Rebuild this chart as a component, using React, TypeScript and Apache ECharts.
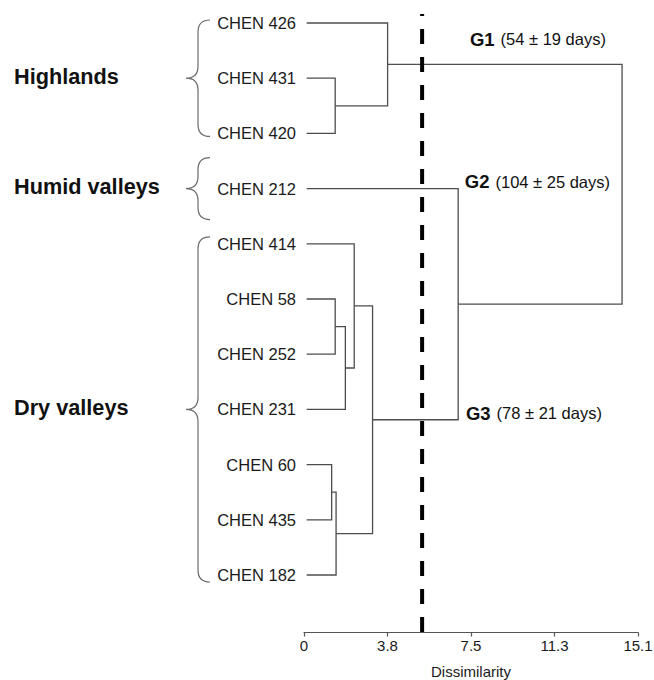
import React, { useEffect, useRef } from "react";
import * as echarts from "echarts";

// ---------- data ----------
const leafNames = [
  "CHEN 426", "CHEN 431", "CHEN 420", "CHEN 212", "CHEN 414", "CHEN 58",
  "CHEN 252", "CHEN 231", "CHEN 60", "CHEN 435", "CHEN 182",
];
// R-style merge matrix: negative = leaf (1-based), positive = earlier merge (1-based)
const mergeLeft = [-2, -1, -6, 3, -5, -9, 6, 5, -4, 2];
const mergeRight = [-3, 1, -7, -8, 4, -10, -11, 7, 8, 9];
const mergeHeight = [1.41, 3.78, 1.41, 1.87, 2.27, 1.25, 1.45, 3.1, 6.97, 14.38];
const leafHang = 0.12;
const cutHeight = 5.34;

const xTickLabels = ["0", "3.8", "7.5", "11.3", "15.1"];
const xMax = 15.1;

const regionNames = ["Highlands", "Humid valleys", "Dry valleys"];
const regionFirstLeaf = [0, 3, 4];
const regionLastLeaf = [2, 3, 10];

const groupNames = ["G1", "G2", "G3"];
const groupDays = ["(54 ± 19 days)", "(104 ± 25 days)", "(78 ± 21 days)"];

// ---------- layout (not data) ----------
const FONT = "Liberation Sans, Arial, Helvetica, sans-serif";
const yMin = -0.163;
const yMax = 11.042;
const bracePad = [3, 31, 7]; // px beyond outer leaves
const groupAnchorX = [7.5, 7.27, 7.32];
const groupAnchorY = [0.29, 2.88, 7.07];

function childPos(c: number, mergeY: number[]): [number, number] {
  if (c < 0) return [leafHang, -c - 1];
  return [mergeHeight[c - 1], mergeY[c - 1]];
}

const mergeY: number[] = [];
for (let i = 0; i < mergeHeight.length; i++) {
  const a = childPos(mergeLeft[i], mergeY);
  const b = childPos(mergeRight[i], mergeY);
  mergeY.push((a[1] + b[1]) / 2);
}

export default function App() {
  const ref = useRef<HTMLDivElement>(null);

  useEffect(() => {
    document.body.style.margin = "0";
    const chart = echarts.init(ref.current!, undefined, { renderer: "svg" });
    const lineColor = "#4d4d4d";

    const option: any = {
      animation: false,
      backgroundColor: "#ffffff",
      grid: { left: 304, right: 16, top: 14, bottom: 47.5, containLabel: false, outerBoundsMode: "none" },
      xAxis: {
        type: "value",
        position: "bottom",
        min: 0,
        max: xMax,
        interval: xMax / 4,
        splitLine: { show: false },
        axisLine: { show: true, onZero: false, lineStyle: { color: "#555", width: 1.2 } },
        axisTick: { show: true, length: 4, lineStyle: { color: "#555", width: 1.2 } },
        axisLabel: {
          margin: 5,
          fontSize: 15,
          fontFamily: FONT,
          color: "#1a1a1a",
          showMinLabel: true,
          showMaxLabel: true,
          formatter: (v: number) => {
            const idx = Math.round(v / (xMax / 4));
            return xTickLabels[idx] ?? "";
          },
        },
        name: "Dissimilarity",
        nameLocation: "middle",
        nameGap: 31,
        nameTextStyle: { fontSize: 15, fontFamily: FONT, color: "#1a1a1a" },
      },
      yAxis: { type: "value", inverse: true, min: yMin, max: yMax, show: false },
      series: [
        {
          type: "custom",
          name: "dendrogram",
          silent: true,
          clip: false,
          data: mergeHeight.map((h, i) => [h, mergeY[i]]),
          encode: { x: 0, y: 1 },
          renderItem: (params: any, api: any) => {
            const i = params.dataIndex;
            const [lx, ly] = childPos(mergeLeft[i], mergeY);
            const [rx, ry] = childPos(mergeRight[i], mergeY);
            const h = mergeHeight[i];
            const pts = [api.coord([lx, ly]), api.coord([h, ly]), api.coord([h, ry]), api.coord([rx, ry])];
            return {
              type: "polyline",
              shape: { points: pts },
              style: { stroke: lineColor, lineWidth: 1.3, fill: "none" },
            };
          },
        },
        {
          type: "custom",
          name: "leaves",
          silent: true,
          clip: false,
          data: leafNames.map((_, i) => [0, i]),
          encode: { x: 0, y: 1 },
          renderItem: (params: any, api: any) => {
            const i = params.dataIndex;
            const p = api.coord([0, i]);
            return {
              type: "text",
              x: p[0] - 8,
              y: p[1],
              style: {
                text: leafNames[i],
                fill: "#1a1a1a",
                fontSize: 16.5,
                fontFamily: FONT,
                align: "right",
                verticalAlign: "middle",
              },
            };
          },
        },
        {
          type: "custom",
          name: "regions",
          silent: true,
          clip: false,
          data: regionNames.map((_, i) => [0, (regionFirstLeaf[i] + regionLastLeaf[i]) / 2]),
          encode: { x: 0, y: 1 },
          renderItem: (params: any, api: any) => {
            const i = params.dataIndex;
            const top = api.coord([0, regionFirstLeaf[i]])[1] - bracePad[i];
            const bot = api.coord([0, regionLastLeaf[i]])[1] + bracePad[i];
            const cy = (top + bot) / 2;
            const xe = 210, xm = 198, xt = 186;
            const r = Math.min(12, (bot - top) / 4);
            const d =
              `M${xe},${top} Q${xm},${top} ${xm},${top + r} L${xm},${cy - r} ` +
              `Q${xm},${cy} ${xt},${cy} Q${xm},${cy} ${xm},${cy + r} ` +
              `L${xm},${bot - r} Q${xm},${bot} ${xe},${bot}`;
            return {
              type: "group",
              children: [
                {
                  type: "path",
                  shape: { pathData: d },
                  style: { stroke: "#6a6a6a", lineWidth: 1.2, fill: "none" },
                },
                {
                  type: "text",
                  x: 14,
                  y: cy - 2,
                  style: {
                    text: regionNames[i],
                    fill: "#111",
                    fontSize: 21.7,
                    fontWeight: "bold",
                    fontFamily: FONT,
                    align: "left",
                    verticalAlign: "middle",
                  },
                },
              ],
            };
          },
        },
        {
          type: "custom",
          name: "groups",
          silent: true,
          clip: false,
          data: groupNames.map((_, i) => [groupAnchorX[i], groupAnchorY[i]]),
          encode: { x: 0, y: 1 },
          renderItem: (params: any, api: any) => {
            const i = params.dataIndex;
            const p = api.coord([groupAnchorX[i], groupAnchorY[i]]);
            return {
              type: "text",
              x: p[0],
              y: p[1],
              style: {
                text: `{b|${groupNames[i]}}{n|${groupDays[i]}}`,
                align: "left",
                verticalAlign: "middle",
                rich: {
                  b: { fontSize: 18.5, fontWeight: "bold", fontFamily: FONT, fill: "#111" },
                  n: { fontSize: 16.5, fontFamily: FONT, fill: "#111", padding: [0, 0, 0, 6] },
                },
              },
            };
          },
        },
        {
          type: "custom",
          name: "cut",
          silent: true,
          clip: false,
          data: [[cutHeight, yMin]],
          encode: { x: 0, y: 1 },
          renderItem: (params: any, api: any) => {
            const a = api.coord([cutHeight, yMin]);
            const b = api.coord([cutHeight, yMax]);
            return {
              type: "group",
              children: [
                {
                  type: "line",
                  shape: { x1: a[0], y1: a[1], x2: a[0], y2: a[1] + 2 },
                  style: { stroke: "#000", lineWidth: 4 },
                },
                {
                  type: "line",
                  shape: { x1: a[0], y1: a[1] + 15, x2: b[0], y2: b[1] },
                  style: { stroke: "#000", lineWidth: 4, lineDash: [15, 13] },
                },
              ],
            };
          },
        },
      ],
    };

    chart.setOption(option);
    return () => chart.dispose();
  }, []);

  return (
    <div
      ref={ref}
      style={{ position: "absolute", left: 0, top: 0, width: 654, height: 680 }}
    />
  );
}
